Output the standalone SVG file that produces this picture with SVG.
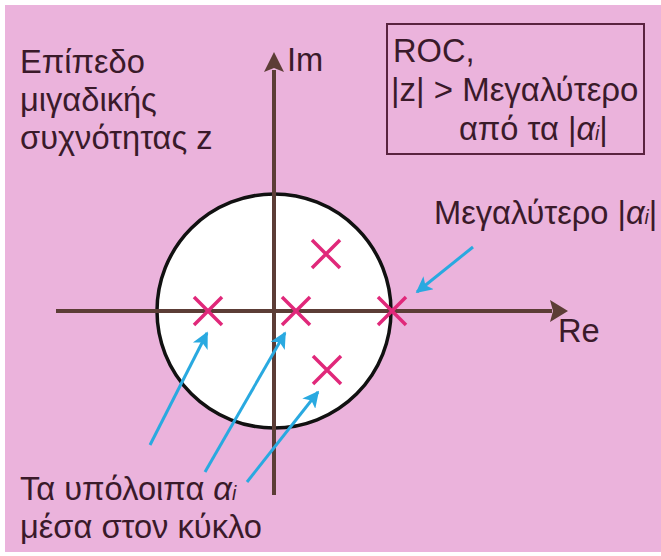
<svg xmlns="http://www.w3.org/2000/svg" width="661" height="556" viewBox="0 0 661 556">
<style>
.t{font-family:"Liberation Sans",Arial,sans-serif;font-size:34px;fill:#3a1a2a}
.s{font-style:italic;font-size:20px}
.ax{stroke:#5c3d36;stroke-width:4;fill:none}
.x{stroke:#e0287a;stroke-width:3.5;fill:none}
.ar{stroke:#29a9e0;stroke-width:3;fill:none;marker-end:url(#ah)}
</style>
<defs>
<marker id="ah" viewBox="0 0 10 10" refX="9" refY="5" markerWidth="6.5" markerHeight="5.5" markerUnits="strokeWidth" orient="auto">
<path d="M0,0 L10,5 L0,10 L2.5,5 Z" fill="#29a9e0"/>
</marker>
</defs>
<rect x="0" y="0" width="661" height="556" fill="#ffffff"/>
<rect x="5" y="5" width="656" height="547" fill="#ebb3dc"/>
<g id="roc-circle"><circle cx="274" cy="311" r="117" fill="#ffffff" stroke="#111" stroke-width="3.5"/></g>
<g id="axes">
<line class="ax" x1="56" y1="311" x2="552" y2="311"/>
<path d="M568,311 L550,300 L553,311 L550,322 Z" fill="#5c3d36"/>
<line class="ax" x1="274" y1="495" x2="274" y2="70"/>
<path d="M274,52 L264,72 L274,68 L284,72 Z" fill="#5c3d36"/>
</g>
<g id="poles">
<path class="x" d="M194,297 L222,325 M222,297 L194,325"/>
<path class="x" d="M282,297 L310,325 M310,297 L282,325"/>
<path class="x" d="M378,297 L406,325 M406,297 L378,325"/>
<path class="x" d="M312,240 L340,268 M340,240 L312,268"/>
<path class="x" d="M313,356 L341,384 M341,356 L313,384"/>
</g>
<g id="connectors">
<line class="ar" x1="150" y1="445" x2="207" y2="333"/>
<line class="ar" x1="205" y1="472" x2="285" y2="333"/>
<line class="ar" x1="247" y1="482" x2="318" y2="392"/>
<line class="ar" x1="473" y1="247" x2="417" y2="292"/>
</g>
<g id="plane-label">
<text class="t" transform="translate(20,73) scale(0.96,1)">Επίπεδο</text>
<text class="t" transform="translate(20,111) scale(0.96,1)">μιγαδικής</text>
<text class="t" transform="translate(20,149) scale(0.96,1)">συχνότητας z</text>
</g>
<g id="im-label"><text class="t" transform="translate(287,71) scale(0.96,1)">Im</text></g>
<g id="re-label"><text class="t" transform="translate(558,342) scale(0.96,1)">Re</text></g>
<g id="roc-box">
<rect x="387" y="24" width="257" height="130" fill="none" stroke="#5a2340" stroke-width="2"/>
<text class="t" transform="translate(393,62) scale(0.96,1)">ROC,</text>
<text class="t" transform="translate(391,101) scale(0.97,1)">|z| &gt; Μεγαλύτερο</text>
<text class="t" transform="translate(459,140) scale(0.96,1)">από τα |<tspan font-style="italic">α</tspan><tspan class="s">i</tspan>|</text>
</g>
<g id="largest-label"><text class="t" transform="translate(434,224) scale(0.96,1)">Μεγαλύτερο |<tspan font-style="italic">α</tspan><tspan class="s">i</tspan>|</text></g>
<g id="others-label">
<text class="t" transform="translate(20,500) scale(0.96,1)">Τα υπόλοιπα <tspan font-style="italic">α</tspan><tspan class="s">i</tspan></text>
<text class="t" transform="translate(20,538) scale(0.96,1)">μέσα στον κύκλο</text>
</g>
</svg>
